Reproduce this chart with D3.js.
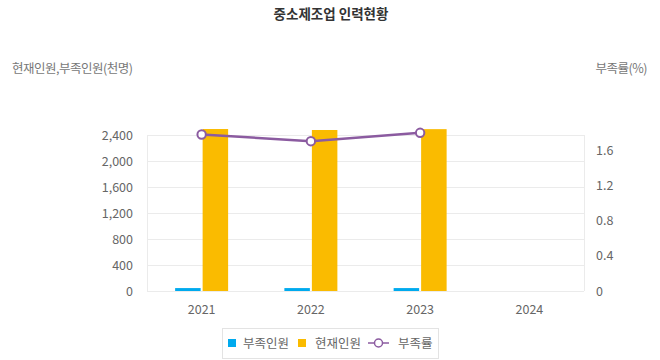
<!DOCTYPE html>
<html><head><meta charset="utf-8">
<script src="https://cdn.jsdelivr.net/npm/d3@7"></script>
<style>body{margin:0;background:#fff;}svg{display:block;font-family:"Noto Sans CJK KR","Noto Sans",sans-serif;}</style>
</head><body>
<script>
const categories = ["2021","2022","2023","2024"];
const shortage = [45, 45, 45, null];          // 부족인원 (천명)
const current = [2492, 2477, 2490, null];     // 현재인원 (천명)
const rate = [1.776, 1.70, 1.795, null];      // 부족률 (%)
const leftTicks = [0,400,800,1200,1600,2000,2400];
const rightTicks = [0,0.4,0.8,1.2,1.6];

const W=660,H=360;
const m={l:147,r:584,t:135,b:291};
const svg=d3.select("body").append("svg").attr("width",W).attr("height",H);

const x=d3.scaleBand().domain(categories).range([m.l,m.r]);
const yL=d3.scaleLinear().domain([0,2400]).range([m.b,m.t]);
const yR=d3.scaleLinear().domain([0,1.6]).range([m.b,m.b-141]);

// gridlines
svg.append("g").selectAll("line").data(leftTicks).join("line")
  .attr("x1",m.l).attr("x2",m.r).attr("y1",d=>yL(d)+0.5).attr("y2",d=>yL(d)+0.5)
  .attr("stroke","#ebebeb").attr("stroke-width",1);
svg.append("line").attr("x1",m.l+0.5).attr("x2",m.l+0.5).attr("y1",m.t).attr("y2",m.b)
  .attr("stroke","#ebebeb");
svg.append("line").attr("x1",m.r+0.5).attr("x2",m.r+0.5).attr("y1",m.t).attr("y2",m.b)
  .attr("stroke","#ebebeb");

// axes
const axL=svg.append("g").attr("transform",`translate(${m.l},0)`)
  .call(d3.axisLeft(yL).tickValues(leftTicks).tickSize(0).tickPadding(14).tickFormat(d3.format(",")));
const axR=svg.append("g").attr("transform",`translate(${m.r},0)`)
  .call(d3.axisRight(yR).tickValues(rightTicks).tickSize(0).tickPadding(12).tickFormat(d=>d===0?"0":d3.format(".1f")(d)));
const axX=svg.append("g").attr("transform",`translate(0,${m.b})`)
  .call(d3.axisBottom(x).tickSize(0).tickPadding(14));
[axL,axR,axX].forEach(a=>{a.select(".domain").remove();
  a.selectAll("text").attr("fill","#666").attr("font-size",12.5).attr("font-family",'"Noto Sans CJK KR",sans-serif');});

// bars
const bw=25.5, gap=2;
svg.append("g").selectAll("rect").data(categories.map((c,i)=>({c,v:shortage[i]})).filter(d=>d.v!=null))
  .join("rect").attr("x",d=>x(d.c)+x.bandwidth()/2-gap/2-bw).attr("width",bw)
  .attr("y",d=>yL(d.v)).attr("height",d=>m.b-yL(d.v)).attr("fill","#00aaee");
svg.append("g").selectAll("rect").data(categories.map((c,i)=>({c,v:current[i]})).filter(d=>d.v!=null))
  .join("rect").attr("x",d=>x(d.c)+x.bandwidth()/2+gap/2).attr("width",bw)
  .attr("y",d=>yL(d.v)).attr("height",d=>m.b-yL(d.v)).attr("fill","#fabb00");

// line
const pts=categories.map((c,i)=>({c,v:rate[i]})).filter(d=>d.v!=null);
svg.append("path").datum(pts).attr("fill","none").attr("stroke","#8b5ba0").attr("stroke-width",2.5)
  .attr("d",d3.line().x(d=>x(d.c)+x.bandwidth()/2).y(d=>yR(d.v)));
svg.append("g").selectAll("circle").data(pts).join("circle")
  .attr("cx",d=>x(d.c)+x.bandwidth()/2).attr("cy",d=>yR(d.v)).attr("r",4.2)
  .attr("fill","#fff").attr("stroke","#8b5ba0").attr("stroke-width",2);

// titles
svg.append("text").attr("x",331).attr("y",19).attr("text-anchor","middle")
  .attr("font-size",13.5).attr("font-weight","bold").attr("fill","#333").text("중소제조업 인력현황");
svg.append("text").attr("x",12).attr("y",73).attr("font-size",12.5).attr("fill","#777")
  .attr("letter-spacing",-0.5).text("현재인원,부족인원(천명)");
svg.append("text").attr("x",647).attr("y",73).attr("text-anchor","end").attr("font-size",12.5).attr("fill","#777")
  .attr("letter-spacing",-0.5).text("부족률(%)");

// legend
const lg=svg.append("g");
lg.append("rect").attr("x",222.5).attr("y",328.5).attr("width",216).attr("height",30)
  .attr("fill","#fff").attr("stroke","#e3e3e3");
lg.append("rect").attr("x",228).attr("y",339).attr("width",8).attr("height",8).attr("fill","#00aaee");
lg.append("text").attr("x",243).attr("y",348).attr("font-size",12.5).attr("fill","#666").text("부족인원");
lg.append("rect").attr("x",298).attr("y",339).attr("width",8).attr("height",8).attr("fill","#fabb00");
lg.append("text").attr("x",315).attr("y",348).attr("font-size",12.5).attr("fill","#666").text("현재인원");
lg.append("line").attr("x1",368).attr("x2",389).attr("y1",343).attr("y2",343).attr("stroke","#8b5ba0").attr("stroke-width",1.5);
lg.append("circle").attr("cx",378.5).attr("cy",343).attr("r",4).attr("fill","#fff").attr("stroke","#8b5ba0").attr("stroke-width",1.5);
lg.append("text").attr("x",398).attr("y",348).attr("font-size",12.5).attr("fill","#666").text("부족률");
</script>
</body></html>
